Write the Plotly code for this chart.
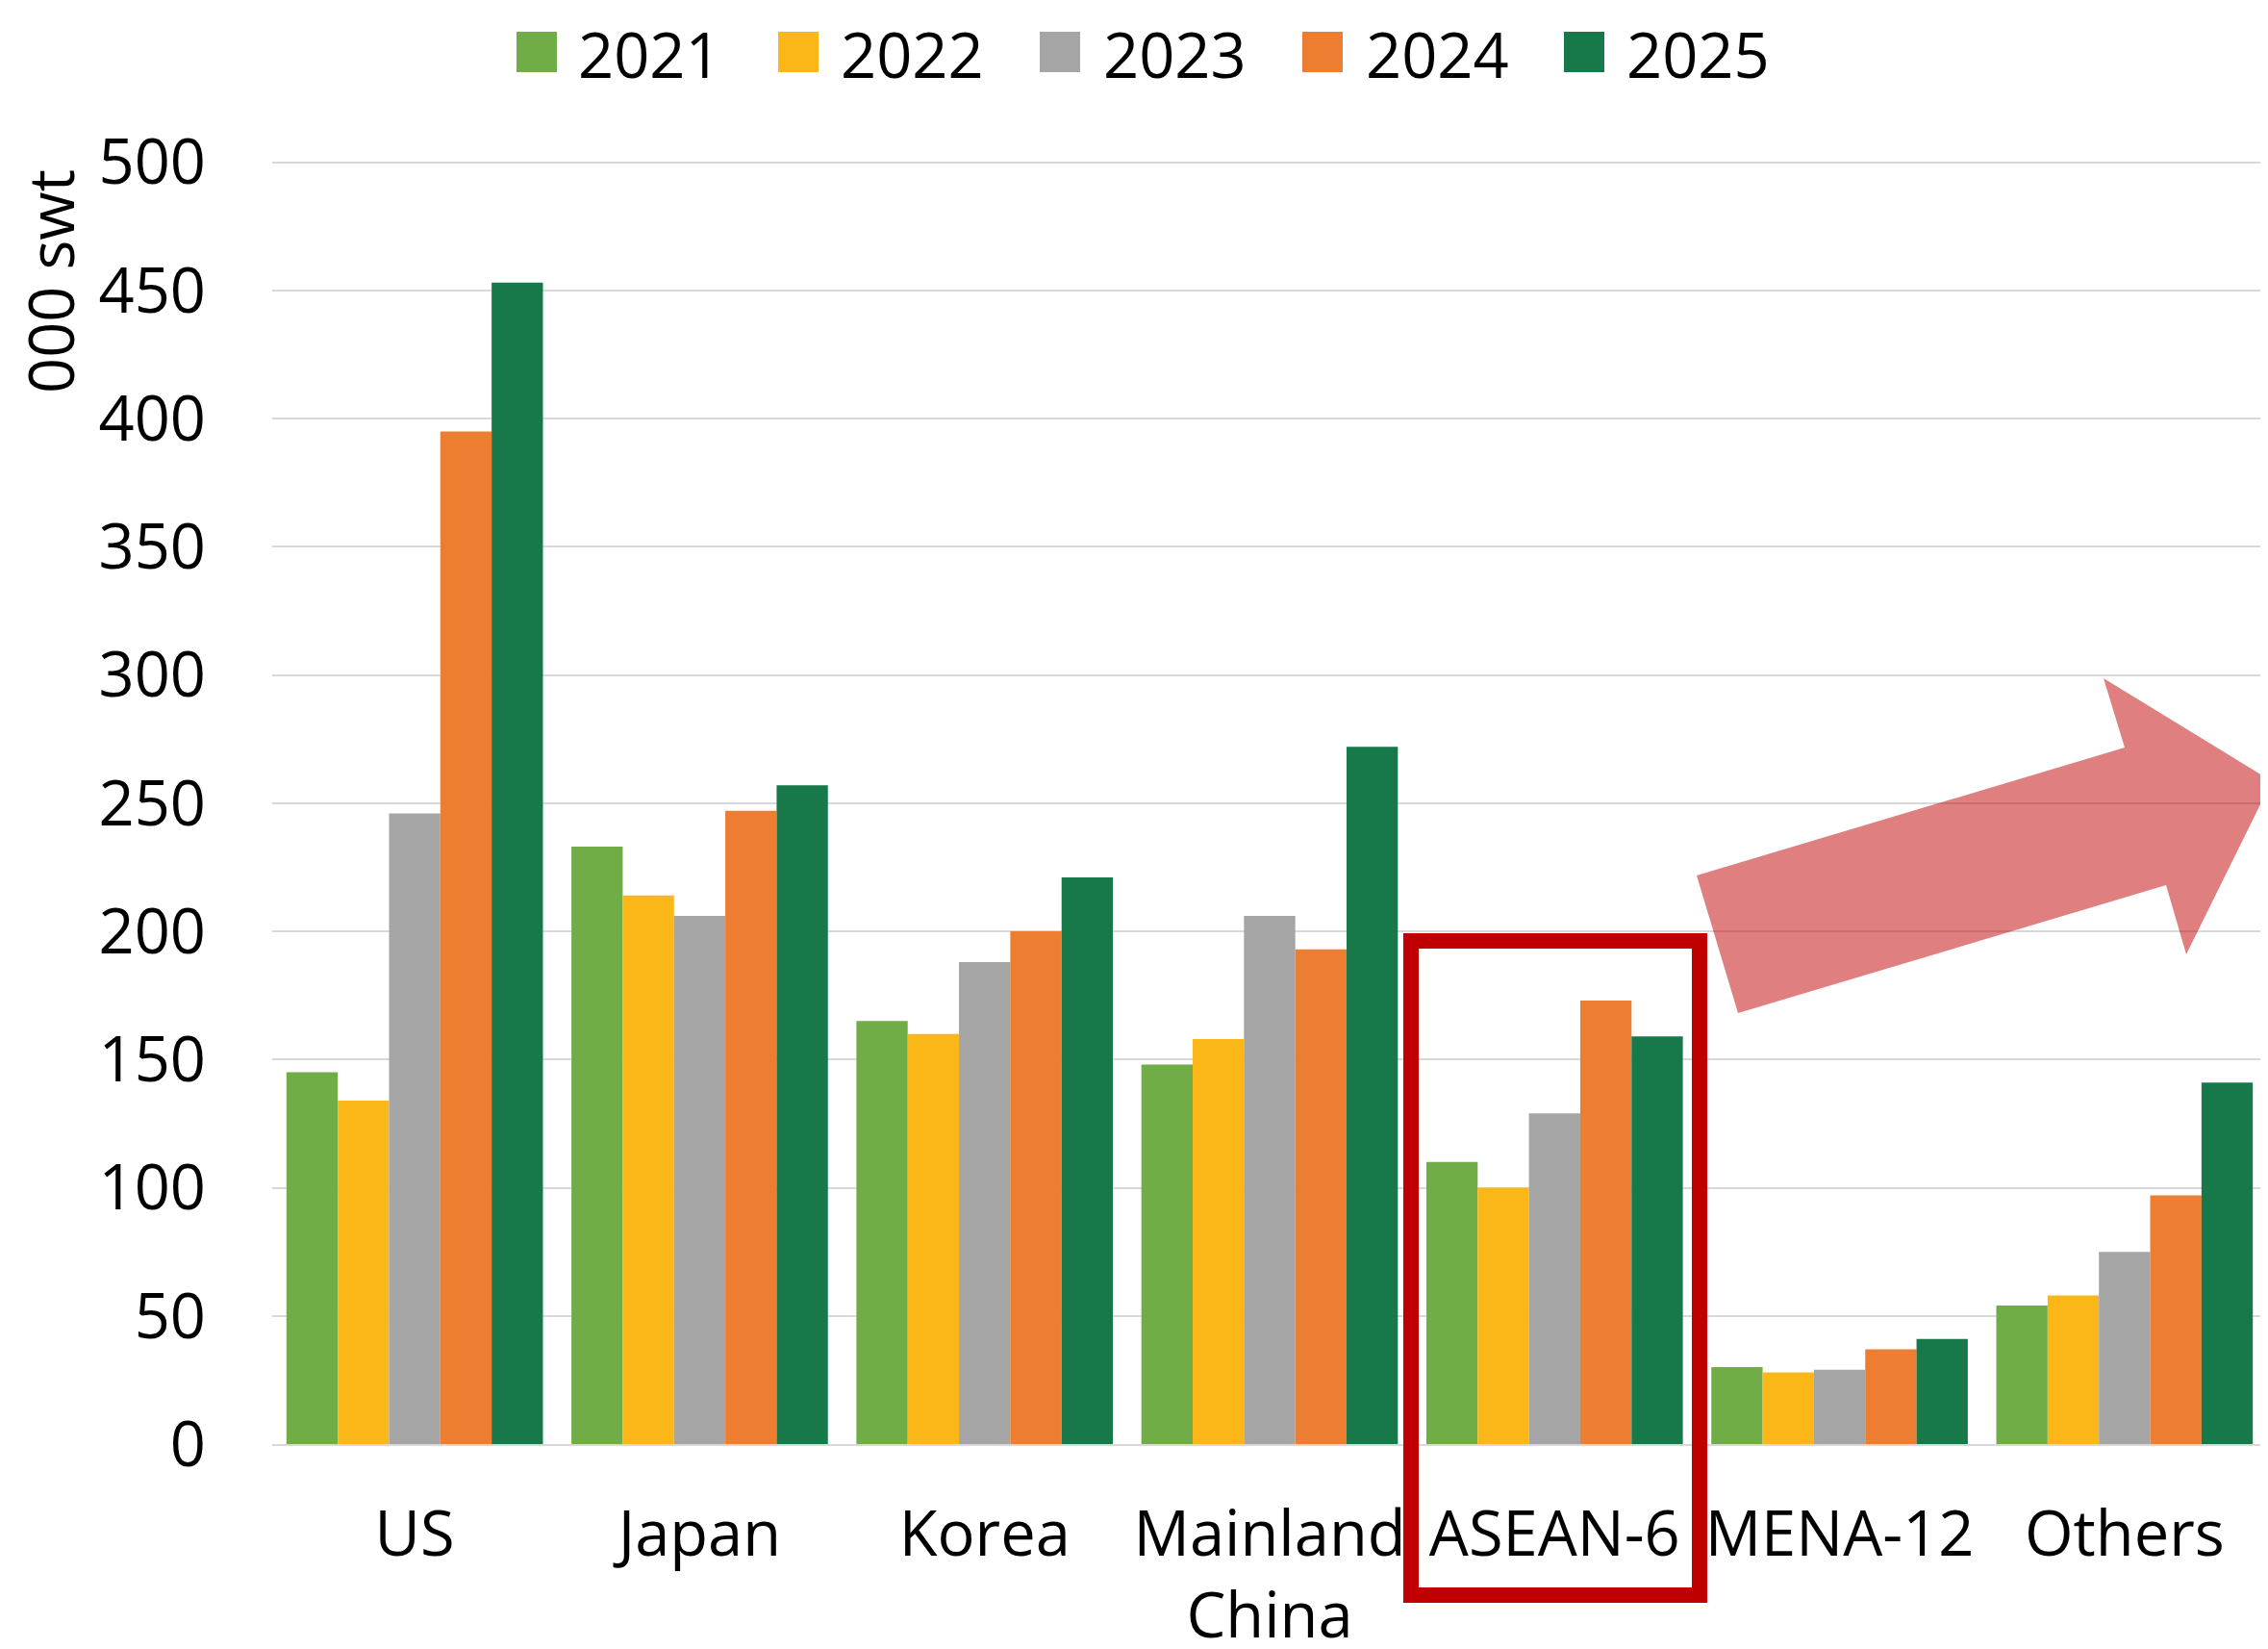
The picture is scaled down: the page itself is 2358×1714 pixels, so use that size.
import plotly.graph_objects as go

categories = ["US", "Japan", "Korea", "Mainland<br>China", "ASEAN-6", "MENA-12", "Others"]
years = ["2021", "2022", "2023", "2024", "2025"]
v2021 = [145, 233, 165, 148, 110, 30, 54]
v2022 = [134, 214, 160, 158, 100, 28, 58]
v2023 = [246, 206, 188, 206, 129, 29, 75]
v2024 = [395, 247, 200, 193, 173, 37, 97]
v2025 = [453, 257, 221, 272, 159, 41, 141]
series = [v2021, v2022, v2023, v2024, v2025]
colors = ["#70AD47", "#FBB717", "#A5A5A5", "#ED7D31", "#17794A"]
yticks = [0, 50, 100, 150, 200, 250, 300, 350, 400, 450, 500]

W, H = 2358, 1714
OFF = 8  # page body margin
L, R, T, B = 275, 9, 159, 221
PW, PH = W - L - R, H - T - B


def px(x):
    return (x - OFF - L) / PW


def py(y):
    return (H - B - (y - OFF)) / PH


FONT = "Open Sans"
FS = 65

fig = go.Figure()
for yr, vals, c in zip(years, series, colors):
    fig.add_trace(go.Bar(x=categories, y=vals, name=yr, marker=dict(color=c, line=dict(width=0)),
                         showlegend=False))

fig.update_layout(
    width=W, height=H,
    margin=dict(l=L, r=R, t=T, b=B, autoexpand=False),
    paper_bgcolor="white", plot_bgcolor="white",
    barmode="group", bargap=0.1, bargroupgap=0,
    font=dict(family=FONT, size=FS, color="black"),
)
fig.update_yaxes(range=[0, 500.6], tickvals=yticks, showgrid=True, gridcolor="#D9D9D9", gridwidth=2,
                 zeroline=False, showline=False, ticks="", ticklabelstandoff=68, automargin=False,
                 tickfont=dict(family=FONT, size=FS))
fig.update_xaxes(showline=True, linecolor="#D9D9D9", linewidth=2, ticks="", showgrid=False,
                 ticklabelstandoff=36, automargin=False, tickfont=dict(family=FONT, size=FS))

# y-axis title
fig.add_annotation(text="000 swt", x=px(52), y=py(293), xref="paper", yref="paper",
                   textangle=-90, showarrow=False, font=dict(family=FONT, size=FS),
                   xanchor="center", yanchor="middle")

# manual legend
sq_left = [537, 809, 1081, 1354, 1626]
txt_left = [599, 872, 1145, 1418, 1689]
for yr, c, sl, tl in zip(years, colors, sq_left, txt_left):
    fig.add_shape(type="rect", xref="paper", yref="paper", x0=px(sl), x1=px(sl + 42),
                  y0=py(75), y1=py(33), fillcolor=c, line=dict(width=0))
    fig.add_annotation(text=yr, x=px(tl), y=py(56), xref="paper", yref="paper", showarrow=False,
                       xanchor="left", yanchor="middle", font=dict(family=FONT, size=FS))

# red highlight box
fig.add_shape(type="rect", xref="paper", yref="paper", x0=px(1467), x1=px(1767),
              y0=py(1658), y1=py(978), line=dict(color="#C00000", width=16),
              fillcolor="rgba(0,0,0,0)", layer="above")

# arrow
pts = [(1764, 910), (2209, 777), (2187, 705), (2362, 812), (2273, 992), (2252, 920), (1807, 1053)]
path = "M " + " L ".join(f"{px(x)},{py(y)}" for x, y in pts) + " Z"
fig.add_shape(type="path", xref="paper", yref="paper", path=path,
              fillcolor="rgba(192,0,0,0.5)", line=dict(width=0), layer="above")

fig.write_html("out.html")
